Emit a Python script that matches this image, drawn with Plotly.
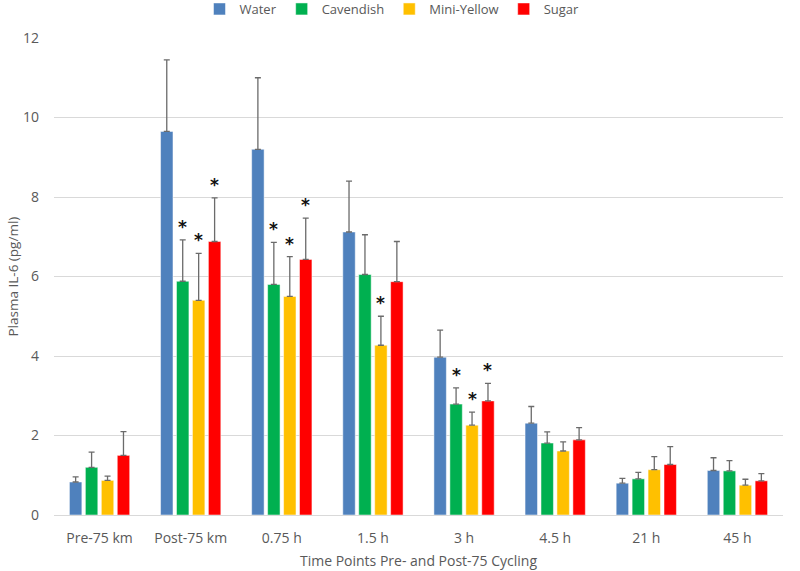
import plotly.graph_objects as go

categories = ["Pre-75 km", "Post-75 km", "0.75 h", "1.5 h", "3 h", "4.5 h", "21 h", "45 h"]
series_names = ["Water", "Cavendish", "Mini-Yellow", "Sugar"]
water = [0.83, 9.65, 9.2, 7.12, 3.97, 2.31, 0.80, 1.12]
water_err = [0.13, 1.80, 1.80, 1.28, 0.68, 0.42, 0.12, 0.32]
cavendish = [1.20, 5.88, 5.80, 6.05, 2.79, 1.81, 0.91, 1.11]
cavendish_err = [0.38, 1.04, 1.06, 1.00, 0.41, 0.28, 0.16, 0.26]
mini_yellow = [0.87, 5.40, 5.50, 4.27, 2.26, 1.61, 1.14, 0.75]
mini_yellow_err = [0.11, 1.18, 1.00, 0.73, 0.33, 0.23, 0.33, 0.15]
sugar = [1.50, 6.88, 6.43, 5.87, 2.87, 1.89, 1.27, 0.86]
sugar_err = [0.60, 1.10, 1.04, 1.01, 0.44, 0.31, 0.45, 0.18]
# significance markers: (series index, category index)
stars = [(1, 1), (2, 1), (3, 1), (1, 2), (2, 2), (3, 2), (2, 3), (1, 4), (2, 4), (3, 4)]

colors = ["#4F81BD", "#00B050", "#FFC000", "#FF0000"]
values = [water, cavendish, mini_yellow, sugar]
errors = [water_err, cavendish_err, mini_yellow_err, sugar_err]

fig = go.Figure()
for name, v, e, c in zip(series_names, values, errors, colors):
    fig.add_trace(go.Bar(
        x=categories, y=v, name=name, marker_color=c,
        marker_line=dict(color="white", width=0.5),
        error_y=dict(type="data", array=e, arrayminus=[0] * len(e), symmetric=False,
                     color="#6b6b6b", thickness=1.3, width=3),
    ))

W, H = 800, 571
L, R, T, B = 54, 17, 38, 56
bargap = 0.3
cat_px = (W - L - R) / len(categories)
slot = cat_px * (1 - bargap) / len(series_names)
for si, ci in stars:
    top = values[si][ci] + errors[si][ci]
    fig.add_annotation(x=categories[ci], y=top, xref="x", yref="y", text="<b>*</b>",
                       showarrow=False, xshift=(si - 1.5) * slot, yanchor="bottom", yshift=1,
                       font=dict(family="DejaVu Sans", size=17, color="#111111"))

# y-axis title
fig.add_annotation(text="Plasma IL-6 (pg/ml)", xref="paper", yref="paper", x=0, y=0.5,
                   xanchor="center", yanchor="middle", xshift=-42, textangle=-90,
                   showarrow=False, font=dict(size=13.5, color="#595959"))

plot_h = H - T - B
fig.update_layout(
    width=W, height=H, margin=dict(l=L, r=R, t=T, b=B, autoexpand=False),
    barmode="group", bargap=bargap, bargroupgap=0.22,
    plot_bgcolor="white", paper_bgcolor="white",
    font=dict(family="Open Sans", size=14, color="#595959"),
    legend=dict(orientation="h", x=0.49, xanchor="center", xref="container",
                y=1 + 29 / plot_h, yref="paper", yanchor="middle",
                font=dict(size=13, color="#595959"),
                itemwidth=30, tracegroupgap=0),
    xaxis=dict(title=dict(text="Time Points Pre- and Post-75 Cycling", standoff=10,
                          font=dict(size=14)),
               showline=True, linecolor="#d9d9d9", ticks="", ticklabelstandoff=10,
               automargin=False),
    yaxis=dict(range=[0, 12], dtick=2, automargin=False,
               gridcolor="#d9d9d9", zeroline=False, ticks="", ticklabelstandoff=14),
)

fig.write_html("out.html", config={"displayModeBar": False},
               post_script="document.body.style.margin='0';document.body.style.overflow='hidden';")
